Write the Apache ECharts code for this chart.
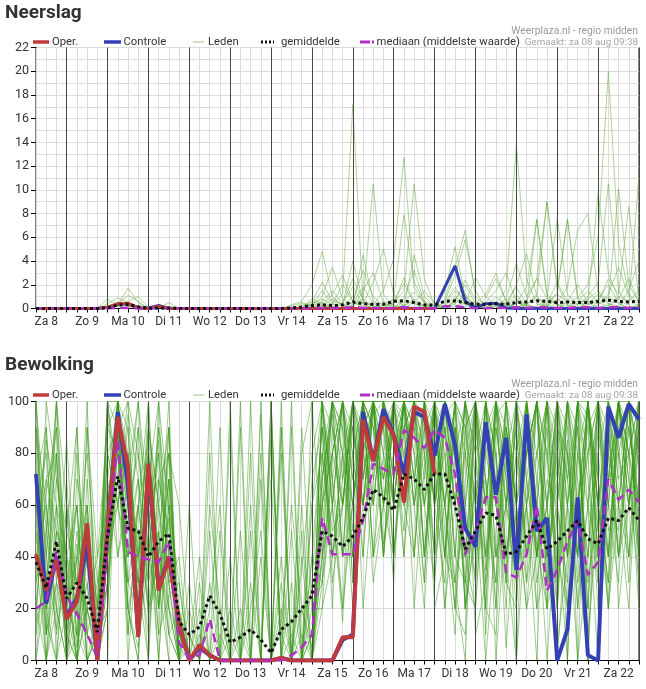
<!DOCTYPE html>
<html><head><meta charset="utf-8">
<script src="https://cdn.jsdelivr.net/npm/echarts@6/dist/echarts.min.js"></script>
<style>html,body{margin:0;padding:0;background:#fff}#c{width:646px;height:689px}</style>
</head><body><div id="c"></div>
<script>
// time steps: every 6 hours from Za 8 06:00 to Zo 23 00:00 (60 steps)
const dayLabels = ['Za 8','Zo 9','Ma 10','Di 11','Wo 12','Do 13','Vr 14','Za 15','Zo 16','Ma 17','Di 18','Wo 19','Do 20','Vr 21','Za 22','Zo 23'];
const hourLabels = ['06:00','12:00','18:00','00:00'];

// ---------- Neerslag (mm) ----------
const rainOper = [0,0,0,0,0,0,0,0.1,0.4,0.45, 0.05,0,0.2,0,0,0,0,0,0,0, 0,0,0,0,0,0,0,0,0,0, 0,0,0,0,0,0,0,0,0,0,
  null,null,null,null,null,null,null,null,null,null, null,null,null,null,null,null,null,null,null,null];
const rainControle = [0,0,0,0,0,0,0,0.1,0.35,0.4, 0.05,0.05,0.25,0,0,0,0,0,0,0, 0,0,0,0,0,0,0,0,0,0, 0,0,0,0,0,0,0,0,0,0,
  1.8,3.6,0.6,0.05,0.4,0.45,0.05,0,0,0, 0,0,0,0,0,0,0,0,0,0];
const rainMean = [0,0,0,0,0,0,0,0.05,0.3,0.35, 0.15,0.02,0.05,0.05,0,0,0,0,0,0, 0,0,0,0,0,0.05,0.12,0.25,0.3,0.25,
  0.3,0.55,0.4,0.35,0.35,0.6,0.65,0.5,0.3,0.3, 0.6,0.65,0.5,0.35,0.35,0.4,0.35,0.5,0.55,0.65, 0.6,0.5,0.55,0.5,0.5,0.6,0.7,0.6,0.55,0.6];
const rainMedian = [0,0,0,0,0,0,0,0,0.05,0.05, 0,0,0,0,0,0,0,0,0,0, 0,0,0,0,0,0,0,0,0.05,0.05,
  0.05,0.1,0.05,0.05,0,0.05,0.1,0.05,0,0, 0.2,0.2,0.1,0,0,0.05,0.05,0.1,0.05,0.1, 0.1,0.05,0.05,0.1,0.1,0.05,0.1,0.1,0.05,0.1];
const rainLeden = [
 [0,0,0,0,0,0,0,0.2,0.5,0.3, 0,0,0,0,0,0,0,0,0,0, 0,0,0,0,0,0,0.1,0.4,0.8,0.3, 1.2,17.2,0.5,0.2,0,0.6,2.1,0.4,0,0, 0.3,1.5,0.8,0,0,0.2,0.5,1.1,0.3,0, 0.4,2.2,0.6,0,0,0.3,1.0,0.4,0,0.2],
 [0,0,0,0,0,0,0,0.8,0.2,0, 0,0,0,0,0,0,0,0,0,0, 0,0,0,0,0,0.3,0.6,2.0,4.8,1.0, 0.2,0.5,1.8,0.4,0,0,0.9,3.2,0.5,0, 0,0.6,2.4,0.7,0,0,0.4,0.8,0.2,0, 0.6,1.2,0.5,0.9,2.0,6.0,20.0,5.5,1.2,0.4],
 [0,0,0,0,0,0,0,0,0.4,1.1, 0.6,0,0,0.5,0,0,0,0,0,0, 0,0,0,0,0,0,0,0.5,2.2,0.6, 0.4,2.5,0.8,10.5,1.2,0,0.3,0.6,0.2,0, 0.8,3.5,6.6,1.0,0.2,0,0,0.5,1.8,7.5, 1.0,0.3,0,0.4,0.8,1.5,0.6,10.1,2.0,0.5],
 [0,0,0,0,0,0,0,0,0.3,0.4, 0.2,0,0,0,0,0,0,0,0,0, 0,0,0,0,0,0,0,0,0.3,1.2, 2.8,0.6,0,0.3,1.5,4.2,12.7,1.8,0.4,0, 0,0.2,0.6,0,0.9,2.5,0.7,0,0.3,1.2, 9.0,2.0,0.3,0,0.6,9.7,3.0,0.8,0.2,0],
 [0,0,0,0,0,0,0,0,0,0.2, 0,0,0,0,0,0,0,0,0,0, 0,0,0,0,0,0.2,0.5,0.2,1.0,3.5, 0.8,0.3,4.5,0.6,0,0.8,7.9,2.2,0.6,0.2, 1.4,5.2,1.0,0.3,0,0.4,1.6,13.9,2.5,0.4, 0.2,1.4,7.5,0.8,0,0.5,2.5,1.2,8.6,0.6],
 [0,0,0,0,0,0,0,0.4,0.9,0.5, 0,0,0,0,0,0,0,0,0,0, 0,0,0,0,0,0,0,0.8,0.4,0, 0,0.6,3.2,1.0,0.2,0.5,1.5,10.5,2.5,0.3, 0,0.8,2.0,0.4,1.2,3.0,0.5,0,0.6,2.5, 0.8,7.6,1.2,0.3,1.0,2.2,10.5,1.5,0.3,11.3],
 [0,0,0,0,0,0,0,0,0.2,0.6, 1.0,0.1,0,0,0,0,0,0,0,0, 0,0,0,0,0,0,0,0.3,1.5,0.4, 0.2,1.0,0.4,2.2,5.0,1.2,0.2,0,0.4,0, 0.6,2.8,5.8,1.5,0,0,0.3,2.0,4.6,1.0, 0,0.5,1.8,6.6,8.0,1.4,0.4,0,1.6,4.0],
 [0,0,0,0,0,0,0,0,0,0, 0,0,0,0,0,0,0,0,0,0, 0,0,0,0,0,0,0,0,0.5,0.2, 0,0.3,0.8,0.2,0,0,0.6,1.4,0.5,0, 0.2,1.0,0.3,0,0.5,1.5,3.0,0.6,0,0.2, 0.8,0.3,0,0.2,0.6,0.4,1.2,3.5,1.0,0.2],
 [0,0,0,0,0,0,0,0,0.5,0.3, 0,0,0,0,0,0,0,0,0,0, 0,0,0,0,0,0,0.2,0.6,0.3,0, 0.5,1.8,0.4,0,0.3,0.8,0.2,4.5,1.0,0.2, 0,0.4,1.2,0.2,0,0.2,0.8,3.8,1.0,2.5, 9.0,1.5,7.5,1.0,0.3,0.8,2.0,0.5,0,0.4],
 [0,0,0,0,0,0,0,0,0.3,1.7, 0.5,0,0,0.2,0,0,0,0,0,0, 0,0,0,0,0,0,0.4,0.2,0,0.4, 2.0,0.6,0.2,0,0.6,0.3,0,0.5,1.5,0.4, 0,0,0.5,2.6,1.0,0.2,0,0.5,0.2,7.5, 1.2,0.4,0.2,0.6,1.5,0.5,0.2,0.8,2.5,0.5],
 [0,0,0,0,0,0,0,0,0,0, 0,0,0,0,0,0,0,0,0,0, 0,0,0,0,0,0,0,0.2,0.6,1.5, 0.4,0,1.5,3.0,0.5,0,0.2,0.8,0.2,0, 0.5,1.8,0.4,0,0,1.0,0.3,0,0.4,1.0, 0.3,0,0.6,2.0,0.5,0,0.3,1.0,0.6,1.5],
 [0,0,0,0,0,0,0,0.1,0.5,0.2, 0,0,0,0,0,0,0,0,0,0, 0,0,0,0,0,0,0,0,0.2,0.8, 0.3,4.0,0.6,0.2,0,0.4,2.6,0.5,0,0, 0,0.6,1.0,0.2,0,0,0.5,1.8,0.4,0, 0.2,0.8,0.3,0,0.4,1.2,0.4,0.2,0,0.3]
];

// ---------- Bewolking (%) ----------
const cloudOper = [41,27,39,16,23,53,0,50,94,75, 9,76,27,40,14,0,6,2,0,0, 0,0,0,0,1,0,0,0,0,0, 9,9,93,77,94,87,61,98,96,72,
  null,null,null,null,null,null,null,null,null,null, null,null,null,null,null,null,null,null,null,null];
const cloudControle = [72,22,40,17,24,45,0,50,96,68, 10,74,28,40,14,0,5,2,0,0, 0,0,0,0,1,0,0,0,0,0, 8,10,96,77,97,87,72,96,94,79,
  99,83,51,44,92,64,86,35,95,50, 55,0,12,63,2,0,98,86,99,93];
const cloudMean = [38,28,46,24,30,24,11,48,71,51, 50,40,46,49,15,10,13,25,18,7, 9,12,8,3,12,15,20,25,50,48,
  44,48,55,66,63,58,72,70,66,72, 72,60,43,50,57,56,41,42,48,54, 43,46,50,54,47,45,55,54,59,54];
const cloudMedian = [20,23,42,25,18,10,2,45,85,42, 40,39,38,46,7,1,2,16,0,0, 0,0,0,0,0,2,5,10,55,41,
  41,41,54,76,74,72,89,86,82,89, 86,72,41,50,63,63,34,32,41,60, 27,35,46,54,33,38,70,62,66,61];
const cloudLeden = [
 [85,40,12,60,5,30,0,45,100,60, 30,75,20,55, 10,0,0,30,0,90,0,0,0,0,15,60,20,5, 70,95,40,100,85,30,60,100,95,20,75,100,50,10,90,100,35,80,5,60,100,45,20,90,70,100,10,55,100,85,30,95],
 [20,65,90,10,45,0,20,80,60,95, 70,15,60,90, 0,5,40,0,0,10,0,0,95,0,0,0,35,80, 100,60,15,80,100,100,45,70,100,100,60,30,95,100,20,50,100,70,90,40,80,100,60,5,40,100,95,60,30,100,80,55],
 [100,10,50,35,0,60,10,30,95,20, 5,40,85,30, 0,0,0,60,20,0,0,30,0,0,80,0,0,10, 40,100,90,30,60,95,100,85,40,100,100,75,20,60,100,10,30,95,100,60,20,70,100,35,85,20,60,100,90,40,100,75],
 [55,0,30,85,20,10,0,100,70,40, 90,60,10,25, 30,0,0,0,90,0,20,0,0,0,0,0,0,40, 90,30,60,100,20,70,100,60,100,90,40,100,60,20,10,80,100,40,60,100,90,20,40,100,60,0,100,70,40,100,60,90],
 [30,85,60,0,70,45,0,20,100,80, 40,10,50,80, 0,0,0,0,50,0,0,0,0,100,0,10,0,0, 60,80,100,50,100,100,80,30,100,70,100,100,40,30,60,100,20,10,80,100,40,60,0,60,100,40,80,20,70,100,100,60],
 [0,30,80,20,0,90,40,60,80,10, 60,100,30,0, 0,20,0,0,0,0,0,80,0,0,0,0,0,0, 20,40,80,100,90,60,100,100,70,100,95,60,100,40,30,70,60,100,30,20,100,80,60,20,100,90,30,60,100,40,90,100],
 [90,15,0,50,30,20,5,100,60,30, 20,80,40,10, 0,0,10,0,0,0,0,0,0,85,10,0,0,0, 100,70,20,60,100,90,40,100,100,60,20,90,100,70,40,20,90,100,60,30,70,100,30,80,20,60,100,30,100,60,40,100],
 [40,60,20,0,90,10,0,60,100,50, 70,30,90,60, 0,0,0,0,0,40,0,0,0,0,0,90,0,60, 80,100,100,40,70,100,60,90,100,100,80,40,60,100,90,60,0,50,100,80,60,20,100,50,0,80,100,60,40,90,100,40],
 [65,20,40,10,0,55,0,80,90,0, 50,20,70,40, 5,0,0,100,0,0,0,0,0,0,0,0,90,20, 30,60,100,80,40,100,100,70,80,100,100,20,40,90,60,100,60,30,100,50,80,100,40,0,60,100,20,90,60,100,70,30],
 [10,40,100,30,60,0,10,40,70,100, 20,60,0,70, 20,0,0,0,10,0,0,0,100,0,40,0,0,0, 100,90,60,100,100,40,80,100,60,100,70,100,90,40,100,80,40,70,20,100,100,40,70,60,30,100,90,100,20,60,100,80],
 [80,0,60,40,0,20,20,100,40,70, 100,40,20,90, 0,0,0,0,0,0,0,20,50,0,0,0,0,0, 60,100,40,90,70,100,60,80,100,40,100,60,30,100,20,50,100,0,60,90,40,100,80,30,100,70,40,80,100,70,80,60],
 [35,90,0,20,10,40,0,0,100,30, 60,80,40,20, 0,60,0,0,0,0,0,0,0,0,100,0,0,30, 90,40,70,100,80,100,100,40,90,100,60,100,20,80,100,40,90,60,30,100,60,0,100,90,40,100,60,0,70,100,40,70],
 [100,50,20,0,40,80,30,60,80,20, 0,90,60,30, 40,0,0,0,0,0,90,0,0,0,0,0,60,0, 50,100,90,60,100,70,90,100,40,100,100,80,60,20,90,100,70,40,60,90,30,60,100,20,80,20,100,40,80,60,100,30],
 [15,30,70,40,20,0,0,40,60,90, 30,0,70,50, 0,0,0,80,0,0,10,0,0,0,0,100,0,0, 40,70,100,30,90,100,100,60,100,80,30,100,70,100,40,60,40,100,80,0,100,60,20,100,70,40,0,80,40,100,80,100],
 [60,10,30,20,80,0,0,20,100,60, 40,90,20,80, 60,10,0,0,0,0,0,0,40,0,0,0,20,0, 80,50,60,100,60,100,40,100,80,60,100,60,80,30,0,100,100,60,40,70,100,70,40,60,100,0,40,100,60,50,90,60],
 [45,70,80,0,40,30,0,70,40,60, 80,50,0,60, 0,0,20,0,0,0,0,0,0,100,0,30,0,100, 100,20,100,70,100,90,70,100,60,40,90,100,100,60,30,20,80,100,90,60,20,40,60,100,40,80,60,40,100,20,60,100],
 [0,50,100,60,10,20,40,90,100,20, 0,70,100,20, 10,0,0,0,0,100,0,50,0,0,0,0,0,0, 70,100,80,40,100,60,100,70,100,100,40,80,100,60,80,100,10,90,60,40,80,100,20,40,100,60,100,60,20,80,100,50],
 [70,20,40,30,0,40,0,30,90,40, 60,20,40,70, 0,0,0,0,20,0,0,0,0,70,0,0,0,40, 30,80,60,100,40,100,90,40,80,100,100,40,100,90,20,70,30,100,40,80,40,80,100,70,40,100,0,100,80,40,60,90],
 [90,60,10,40,30,60,20,50,60,80, 40,60,80,10, 0,0,0,0,0,0,50,0,0,0,90,0,10,0, 100,60,100,60,100,40,60,100,100,60,80,100,40,100,60,30,100,80,40,0,60,100,80,40,20,60,80,100,40,100,60,100],
 [20,0,50,0,10,0,10,60,90,100, 80,40,50,0, 0,0,0,0,0,0,0,0,0,0,20,0,80,100, 40,100,70,90,60,100,80,60,100,70,100,60,90,40,100,60,70,20,100,100,70,40,60,100,0,100,100,40,60,100,80,20],
 [60,80,30,10,0,20,0,70,100,30, 40,90,60,20, 0,0,0,20,60,0,0,0,80,0,0,0,40,0, 60,100,80,20,100,100,60,40,100,90,60,100,100,80,40,90,60,100,70,20,100,60,40,100,80,30,60,100,100,60,20,90],
 [10,100,70,50,90,10,0,30,70,80, 10,50,90,40, 0,10,0,0,0,0,0,0,0,0,30,0,0,70, 90,70,40,100,80,60,100,90,50,100,40,90,60,100,80,30,100,40,90,60,30,100,60,80,60,40,100,50,80,100,70,40],
 [40,0,20,70,10,90,10,90,80,50, 90,20,30,70, 10,0,0,0,0,0,0,0,70,0,0,0,0,20, 20,80,100,70,60,100,40,100,100,60,90,40,100,60,100,70,20,100,40,80,100,40,90,20,100,80,40,100,60,30,100,80],
 [100,30,60,10,50,20,0,50,90,70, 30,100,20,60, 0,0,0,0,0,0,0,100,0,0,0,50,0,0, 80,40,60,100,100,80,70,100,90,40,100,70,40,90,30,100,80,60,100,40,60,80,100,30,60,100,70,30,100,80,40,100],
 [30,50,90,30,0,70,20,100,100,10, 60,30,50,10, 20,0,0,0,0,0,100,0,0,0,0,0,0,60, 100,60,20,100,70,100,90,60,100,100,40,100,80,20,70,100,40,90,60,100,40,60,100,60,20,100,80,100,50,60,100,40],
 [70,90,40,20,60,0,10,20,90,60, 100,60,10,90, 0,0,30,0,0,0,0,0,0,0,90,0,0,0, 30,90,60,80,100,40,100,60,100,80,60,80,40,100,90,40,100,80,30,100,70,40,100,80,40,60,100,70,20,100,60,80],
 [50,20,0,60,30,100,0,60,100,90, 20,80,40,100, 0,0,0,0,0,20,0,0,0,90,0,0,0,0, 70,100,40,60,100,90,60,100,70,100,80,30,90,60,100,80,20,100,80,40,100,30,60,100,90,40,100,60,90,40,80,100],
 [90,40,80,0,20,40,10,80,60,40, 70,40,80,30, 0,30,0,0,0,0,0,0,0,0,0,0,50,0, 40,60,100,90,60,80,100,40,90,100,100,90,60,30,80,60,100,20,90,60,80,100,40,70,100,60,90,40,70,100,90,60],
 [20,70,50,40,60,10,30,40,80,60, 50,0,100,60, 30,0,0,50,0,0,0,0,0,100,0,0,0,0, 100,40,80,60,90,100,40,80,100,70,30,100,60,90,20,100,60,100,70,30,60,100,30,90,80,40,100,60,30,90,100,40],
 [60,10,100,20,40,60,0,100,90,20, 40,60,70,80, 0,0,0,0,0,0,0,60,0,0,0,0,0,10, 60,80,100,40,80,100,70,90,60,100,90,60,100,80,40,100,70,30,100,60,90,40,80,100,60,90,20,100,70,80,60,100]
];

// ---------- build ----------
const times = [];
for (let i = 0; i < 60; i++) times.push(dayLabels[Math.floor((i + 1) / 4)] + ' ' + hourLabels[i % 4]);

const C_OPER = '#bf3b3b', C_CTRL = '#3441b4', C_MEAN = '#111111', C_MED = '#b12fc6';
const FONT = 'Roboto, "Noto Sans", sans-serif';

function mainX(g) {
  return {
    type: 'category', gridIndex: g, data: times, boundaryGap: false, z: 3,
    axisLine: { show: true, lineStyle: { color: '#000', width: 1 } },
    axisTick: { show: true, interval: 0, length: 4, lineStyle: { color: '#000' } },
    axisLabel: { interval: (i) => i % 4 === 1, formatter: (v, i) => dayLabels[Math.floor((i + 1) / 4)],
      color: '#333', fontSize: 12, fontFamily: FONT, margin: 7 },
    splitLine: { show: true, interval: (i) => i % 4 === 3, lineStyle: { color: '#4a4a4a', width: 1 } }
  };
}
function lightX(g) {
  return {
    type: 'category', gridIndex: g, data: times, boundaryGap: false, z: 1,
    axisLine: { show: false }, axisTick: { show: false }, axisLabel: { show: false },
    splitLine: { show: true, interval: 0, lineStyle: { color: '#dcdcdc', width: 1 } }
  };
}
function yAxis(g, max, interval, minor) {
  return {
    type: 'value', gridIndex: g, min: 0, max: max, interval: interval,
    axisLine: { show: true, lineStyle: { color: '#000', width: 1 } },
    axisTick: { show: true, length: 5, lineStyle: { color: '#000' } },
    axisLabel: { color: '#333', fontSize: 12.5, fontFamily: FONT, margin: 7 },
    splitLine: { show: true, lineStyle: { color: '#dcdcdc', width: 1 } },
    minorTick: { show: false, splitNumber: 2 },
    minorSplitLine: { show: minor, lineStyle: { color: '#dcdcdc', width: 1 } }
  };
}

const series = [];
rainLeden.forEach(d => series.push({ type: 'line', name: 'Leden', xAxisIndex: 0, yAxisIndex: 0, data: d, symbol: 'none',
  silent: true, z: 2, lineStyle: { width: 1, color: 'rgba(95,170,60,0.5)' } }));
cloudLeden.forEach(d => series.push({ type: 'line', name: 'Leden', xAxisIndex: 2, yAxisIndex: 1, data: d, symbol: 'none',
  silent: true, z: 2, lineStyle: { width: 1, color: 'rgba(55,150,20,0.48)' } }));
[[0, 0, rainControle, rainOper, rainMedian, rainMean, 3], [2, 1, cloudControle, cloudOper, cloudMedian, cloudMean, 4]].forEach(p => {
  const [xi, yi, ctrl, oper, med, mean, w] = p;
  series.push({ type: 'line', name: 'Controle', xAxisIndex: xi, yAxisIndex: yi, data: ctrl, symbol: 'none', z: 3,
    lineStyle: { width: w, color: C_CTRL } });
  series.push({ type: 'line', name: 'Oper.', xAxisIndex: xi, yAxisIndex: yi, data: oper, symbol: 'none', z: 4,
    lineStyle: { width: w, color: C_OPER } });
  series.push({ type: 'line', name: 'mediaan (middelste waarde)', xAxisIndex: xi, yAxisIndex: yi, data: med, symbol: 'none', z: 5,
    lineStyle: { width: 2.5, color: C_MED, type: [9, 5] } });
  series.push({ type: 'line', name: 'gemiddelde', xAxisIndex: xi, yAxisIndex: yi, data: mean, symbol: 'none', z: 6,
    lineStyle: { width: 3, color: C_MEAN, type: [3, 3] } });
});

function legendRow(y) {
  const t = (x, text) => ({ type: 'text', x: x, y: y, style: { text: text, fill: '#333', font: '11.3px ' + FONT, verticalAlign: 'middle', textVerticalAlign: 'middle' } });
  const l = (x1, x2, color, w, dash) => ({ type: 'line', shape: { x1: x1, y1: y, x2: x2, y2: y }, style: { stroke: color, lineWidth: w, lineDash: dash || null } });
  return [
    l(33, 49, C_OPER, 3.5), t(52, 'Oper.'),
    l(104, 121, C_CTRL, 3.5), t(123.5, 'Controle'),
    l(193, 204, 'rgba(110,175,90,0.7)', 1), t(208, 'Leden'),
    l(261, 274, C_MEAN, 3, [2, 2]), t(281, 'gemiddelde'),
    l(360, 370, C_MED, 3), l(372, 374, C_MED, 3), t(376.5, 'mediaan (middelste waarde)')
  ];
}
function stamp(y) {
  return [
    { type: 'text', x: 638, y: y - 11, style: { text: 'Weerplaza.nl - regio midden', fill: '#9a9a9a', font: '10.3px ' + FONT, align: 'right', verticalAlign: 'middle', textAlign: 'right', textVerticalAlign: 'middle' } },
    { type: 'text', x: 638, y: y, style: { text: 'Gemaakt: za 08 aug 09:38', fill: '#a5a5a5', font: '9.8px ' + FONT, align: 'right', verticalAlign: 'middle', textAlign: 'right', textVerticalAlign: 'middle' } }
  ];
}

const chart = echarts.init(document.getElementById('c'), null, { renderer: 'canvas' });
chart.setOption({
  animation: false,
  backgroundColor: '#fff',
  title: [
    { text: 'Neerslag', left: 5, top: 4, padding: 0, textStyle: { fontSize: 19, fontWeight: 'bold', color: '#333', fontFamily: FONT } },
    { text: 'Bewolking', left: 5, top: 356, padding: 0, textStyle: { fontSize: 19, fontWeight: 'bold', color: '#333', fontFamily: FONT } }
  ],
  grid: [
    { left: 36, top: 47.5, width: 603, height: 261, show: true, borderColor: '#000', borderWidth: 1, backgroundColor: 'transparent' },
    { left: 36, top: 401.5, width: 603, height: 259, show: true, borderColor: '#000', borderWidth: 1, backgroundColor: 'transparent' }
  ],
  xAxis: [mainX(0), lightX(0), mainX(1), lightX(1)],
  yAxis: [yAxis(0, 22, 2, true), yAxis(1, 100, 20, false)],
  graphic: [].concat(legendRow(42), stamp(42.5), legendRow(395), stamp(395.5)),
  series: series
});
</script></body></html>
